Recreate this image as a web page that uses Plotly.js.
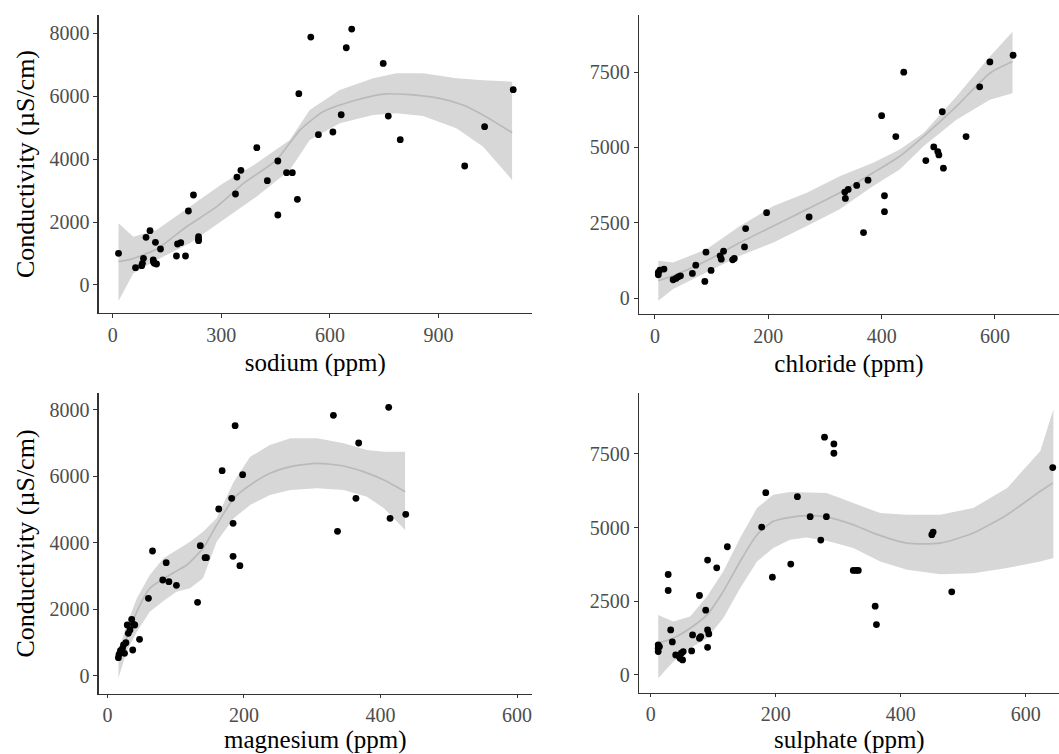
<!DOCTYPE html>
<html>
<head>
<meta charset="utf-8">
<script src="https://cdn.plot.ly/plotly-3.0.1.min.js"></script>
<style>html,body{margin:0;padding:0;background:#fff;}#chart{width:1059px;height:754px;}</style>
</head>
<body>
<div id="chart"></div>
<script>
// ---------- Sodium panel ----------
var sodiumX = [16,63,80,82,85,92,103,112,115,121,113,118,132,176,179,188,201,209,223,237,237,237,339,343,354,398,427,456,456,480,496,510,514,547,568,608,631,645,660,747,761,794,972,1027,1106];
var sodiumY = [1007,551,615,689,848,1515,1727,795,689,668,720,1357,1144,922,1303,1346,922,2352,2861,1536,1452,1409,2893,3433,3645,4366,3317,3942,2225,3571,3571,2723,6082,7883,4779,4864,5414,7544,8138,7046,5372,4620,3783,5033,6209];
var sodiumFitX = [16,48,121,204,287,361,452,517,581,673,747,811,903,967,1031,1103];
var sodiumFitY = [742,816,1134,1854,2490,3232,3973,4927,5510,5881,6072,6061,5934,5722,5351,4843];
var sodiumBandX = [16,57,121,213,305,397,489,544,627,719,783,857,949,1023,1103];
var sodiumUpper = [1960,1536,1748,2490,3232,3868,4609,5563,6199,6570,6729,6729,6570,6510,6464];
var sodiumLower = [-509,371,795,1325,2066,2808,3656,4609,5139,5404,5457,5372,4980,4397,3338];

// ---------- Chloride panel ----------
var chlorideX = [5.9,5.9,8.8,15.9,32,37,41,45,66,72,88,90,99,115,117,121,137,140,158,160,197,272,336,335,341,356,368,376,400,405,405,425,439,478,492,499,501,507,509,549,573,591,632];
var chlorideY = [849,771,926,959,606,650,705,738,815,1091,551,1521,915,1400,1289,1554,1267,1311,1697,2303,2832,2689,3306,3515,3604,3736,2171,3912,6050,3394,2865,5356,7494,4562,5014,4860,4750,6182,4309,5356,7009,7835,8056];
var chlorideFitX = [5.9,32,91,150,209,268,326,385,432,474,532,591,631];
var chlorideFitY = [573,738,1234,1840,2391,2942,3493,4155,4706,5367,6359,7461,7846];
var chlorideBandX = [5.9,32,91,150,209,268,326,385,432,474,532,591,631];
var chlorideUpper = [1234,1179,1620,2391,3053,3493,4044,4485,4926,5477,6689,8012,8838];
var chlorideLower = [-88,298,849,1400,1840,2391,2942,3714,4265,5036,5918,6579,6799];

// ---------- Magnesium panel ----------
var magnesiumX = [16,17,19,22,25,23.5,27,29,30.5,33,35.5,38,40,37,47,60,66,81,86,90,101,132,136,143,145,163,168,182,184,184,187,194,198,331,337,364,368,412,414,437];
var magnesiumY = [551,652,762,832,682,932,1003,1534,1283,1383,1704,1554,1534,782,1103,2336,3759,2887,3408,2837,2727,2216,3920,3559,3559,5022,6175,5343,4591,3599,7529,3318,6055,7840,4351,5343,7007,8080,4742,4862];
var magnesiumFitX = [16,28,43,62,91,116,140,160,185,209,238,268,307,346,375,405,436];
var magnesiumFitY = [531,1133,1935,2637,3038,3338,3840,4541,5343,5744,6095,6296,6396,6316,6145,5895,5544];
var magnesiumBandX = [16,28,43,62,82,101,121,140,160,185,209,238,268,307,346,380,405,436];
var magnesiumUpper = [732,1534,2336,3038,3539,3789,4040,4341,4742,5844,6596,6947,7148,7148,6997,6797,6747,6747];
var magnesiumLower = [-70,732,1333,1935,2256,2536,2637,2937,4040,4742,5143,5444,5594,5644,5594,5393,5042,4391];

// ---------- Sulphate panel ----------
var sulphateX = [12,12,12,14,28,28,32,34.6,40,44,47,49,51,52,65.5,67,78,80,78,88,91,91,93,91,105.6,122.6,177.5,184,194.6,224,234.6,255,272,278,281,293,293,324,328.5,332,359,361,449.6,451.7,481.5,643];
var sulphateY = [1020,906,793,963,3410,2866,1530,1122,680,657,567,737,510,793,816,1360,1246,1303,2697,2198,3898,1530,1394,940,3637,4351,5019,6186,3320,3762,6050,5370,4577,8067,5370,7840,7523,3546,3546,3546,2334,1711,4759,4849,2821,7036];
var sulphateFitX = [12,36,63,90,116,143,170,196,223,249,281.5,324,356,410,463,516,570,623,643];
var sulphateFitY = [1076,1246,1586,2039,2833,3852,4759,5212,5348,5404,5359,5099,4815,4475,4475,4815,5438,6232,6515];
var sulphateBandX = [12,36,63,90,116,143,170,196,223,249,281.5,324,367,410,463,516,570,623,644];
var sulphateUpper = [2039,1813,1983,2663,3512,4645,5665,6118,6209,6200,6175,5835,5495,5440,5438,5665,6345,7591,9007];
var sulphateLower = [-113,453,906,1246,1926,2946,3852,4305,4589,4668,4555,4305,3852,3569,3422,3456,3626,3852,3966];

// ---------- tick / label text ----------
var xTitles = ["sodium (ppm)", "chloride (ppm)", "magnesium (ppm)", "sulphate (ppm)"];
var yTitle = "Conductivity (\u00b5S/cm)";

var BAND = 'rgb(215,215,215)';
var FIT = 'rgb(186,186,186)';

function bandTrace(x, up, lo, xa, ya) {
  var xs = x.concat(x.slice().reverse());
  var ys = up.concat(lo.slice().reverse());
  return {x: xs, y: ys, xaxis: xa, yaxis: ya, type: 'scatter', mode: 'lines',
          fill: 'toself', fillcolor: BAND, line: {width: 0, color: BAND}, hoverinfo: 'skip'};
}
function fitTrace(x, y, xa, ya) {
  return {x: x, y: y, xaxis: xa, yaxis: ya, type: 'scatter', mode: 'lines',
          line: {color: FIT, width: 1.7, shape: 'spline', smoothing: 0.6}};
}
function ptTrace(x, y, xa, ya) {
  return {x: x, y: y, xaxis: xa, yaxis: ya, type: 'scatter', mode: 'markers',
          marker: {color: '#000', size: 6.8}};
}

var data = [
  bandTrace(sodiumBandX, sodiumUpper, sodiumLower, 'x', 'y'),
  fitTrace(sodiumFitX, sodiumFitY, 'x', 'y'),
  ptTrace(sodiumX, sodiumY, 'x', 'y'),
  bandTrace(chlorideBandX, chlorideUpper, chlorideLower, 'x2', 'y2'),
  fitTrace(chlorideFitX, chlorideFitY, 'x2', 'y2'),
  ptTrace(chlorideX, chlorideY, 'x2', 'y2'),
  bandTrace(magnesiumBandX, magnesiumUpper, magnesiumLower, 'x3', 'y3'),
  fitTrace(magnesiumFitX, magnesiumFitY, 'x3', 'y3'),
  ptTrace(magnesiumX, magnesiumY, 'x3', 'y3'),
  bandTrace(sulphateBandX, sulphateUpper, sulphateLower, 'x4', 'y4'),
  fitTrace(sulphateFitX, sulphateFitY, 'x4', 'y4'),
  ptTrace(sulphateX, sulphateY, 'x4', 'y4')
];

var FONT = 'Liberation Serif, Times New Roman, serif';
var TICKSIZE = 20, XTITLESIZE = 25, YTITLESIZE = 26;
function xax(domain, range, dtick, title, anchor, standoff, tlen) {
  return {domain: domain, range: range, dtick: dtick, tick0: 0, anchor: anchor,
    showline: true, linecolor: '#333', linewidth: 1.2, ticks: 'outside', ticklen: tlen,
    tickcolor: '#333', tickwidth: 1, showgrid: false, zeroline: false,
    tickfont: {family: FONT, size: TICKSIZE, color: '#4d4d4d'},
    title: {text: title, font: {family: FONT, size: XTITLESIZE, color: '#000'}, standoff: standoff},
    automargin: false, fixedrange: true};
}
function yax(domain, range, dtick, title, anchor) {
  return {domain: domain, range: range, dtick: dtick, tick0: 0, anchor: anchor,
    showline: true, linecolor: '#333', linewidth: 1.2, ticks: 'outside', ticklen: 4,
    tickcolor: '#333', tickwidth: 1, showgrid: false, zeroline: false,
    tickfont: {family: FONT, size: TICKSIZE, color: '#4d4d4d'},
    title: {text: title, font: {family: FONT, size: YTITLESIZE, color: '#000'}, standoff: 7},
    automargin: false, fixedrange: true};
}

function bottomTitle(text, xa) {
  return {text: text, xref: xa + ' domain', x: 0.5, xanchor: 'center',
          yref: 'paper', y: 0, yanchor: 'bottom', yshift: 0,
          showarrow: false, borderpad: 0, borderwidth: 0,
          font: {family: FONT, size: XTITLESIZE, color: '#000'}};
}

var layout = {
  width: 1059, height: 754,
  margin: {l: 0, r: 0, t: 0, b: 0},
  paper_bgcolor: '#fff', plot_bgcolor: '#fff',
  showlegend: false, hovermode: false,
  xaxis:  xax([0.0931, 0.5024], [-39, 1158], 300, xTitles[0], 'y', 8, 4),
  yaxis:  yax([0.5849, 0.9801], [-890, 8585], 2000, yTitle, 'x'),
  xaxis2: xax([0.6034, 1.0], [-28.2, 713], 200, xTitles[1], 'y2', 8, 4),
  yaxis2: yax([0.5836, 0.9801], [-529, 9392], 2500, '', 'x2'),
  xaxis3: xax([0.0931, 0.5024], [-13, 622], 200, '', 'y3', 6, 3),
  yaxis3: yax([0.0796, 0.4788], [-541, 8511], 2000, yTitle, 'x3'),
  xaxis4: xax([0.6034, 1.0], [-18.7, 653], 200, '', 'y4', 6, 3),
  yaxis4: yax([0.0809, 0.4788], [-611, 9568], 2500, '', 'x4'),
  annotations: [bottomTitle(xTitles[2], 'x3'), bottomTitle(xTitles[3], 'x4')]
};

Plotly.newPlot('chart', data, layout, {staticPlot: true, displayModeBar: false});
</script>
</body>
</html>
